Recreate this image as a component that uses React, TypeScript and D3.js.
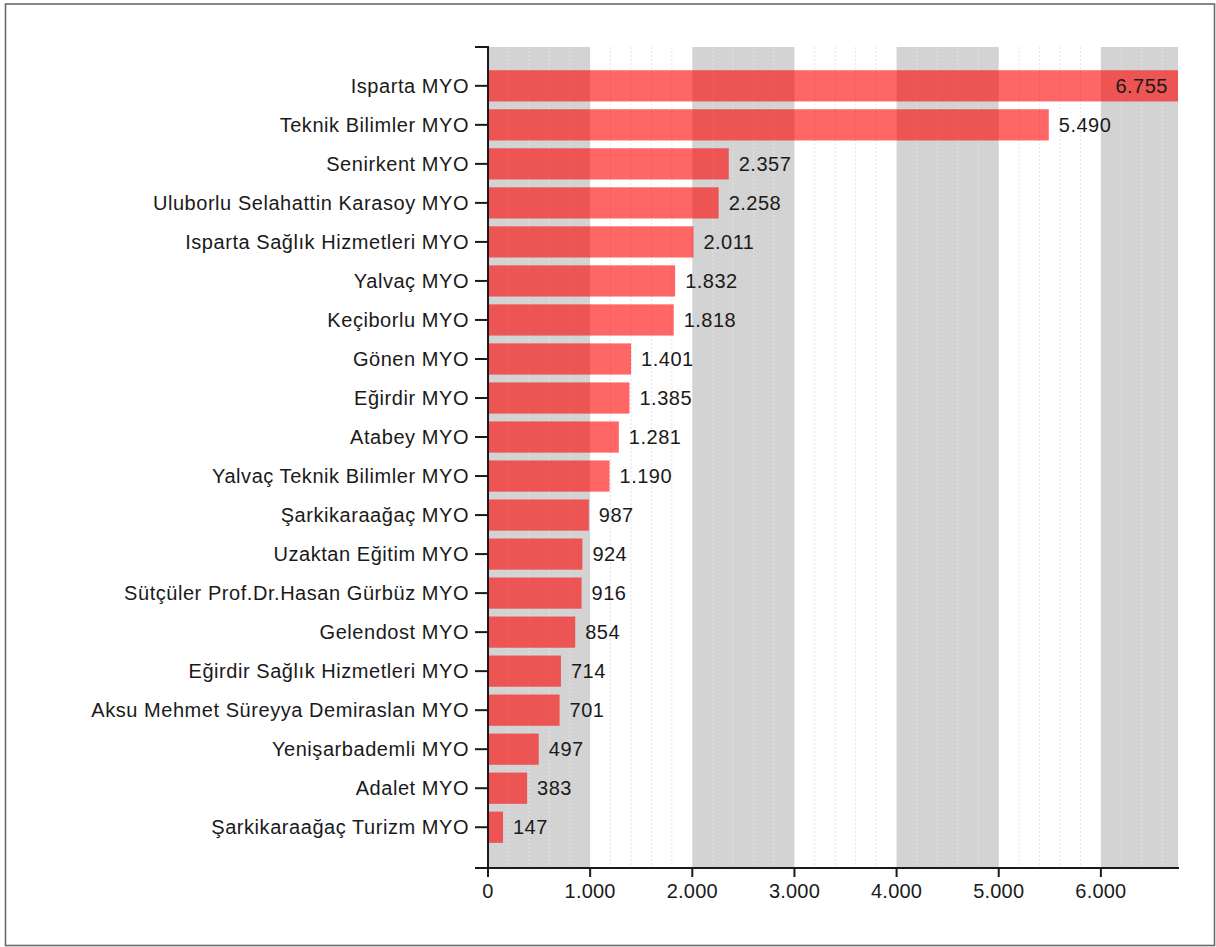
import React from "react";
import * as d3 from "d3";

const categories = [
  "Isparta MYO",
  "Teknik Bilimler MYO",
  "Senirkent MYO",
  "Uluborlu Selahattin Karasoy MYO",
  "Isparta Sağlık Hizmetleri MYO",
  "Yalvaç MYO",
  "Keçiborlu MYO",
  "Gönen MYO",
  "Eğirdir MYO",
  "Atabey MYO",
  "Yalvaç Teknik Bilimler MYO",
  "Şarkikaraağaç MYO",
  "Uzaktan Eğitim MYO",
  "Sütçüler Prof.Dr.Hasan Gürbüz MYO",
  "Gelendost MYO",
  "Eğirdir Sağlık Hizmetleri MYO",
  "Aksu Mehmet Süreyya Demiraslan MYO",
  "Yenişarbademli MYO",
  "Adalet MYO",
  "Şarkikaraağaç Turizm MYO",
];
const values = [6755, 5490, 2357, 2258, 2011, 1832, 1818, 1401, 1385, 1281, 1190, 987, 924, 916, 854, 714, 701, 497, 383, 147];
const xTicks = [0, 1000, 2000, 3000, 4000, 5000, 6000];

const W = 1216;
const H = 947;
const left = 488;
const right = 1178;
const top = 47;
const bottom = 868;
const FONT = "'Liberation Sans', Arial, sans-serif";

const locale = d3.formatLocale({ decimal: ",", thousands: ".", grouping: [3], currency: ["", "₺"] });
const fmt = locale.format(",d");

export default function App() {
  const xMax = d3.max(values) as number;
  const x = d3.scaleLinear().domain([0, xMax]).range([left, right]);
  const y = d3.scaleBand<string>().domain(categories).range([top, bottom]).paddingInner(0.2).paddingOuter(0.62).align(0.48);

  const bandStarts = d3.range(0, xMax, 1000);
  const minor = d3.range(200, xMax, 200).filter((v) => v % 1000 !== 0);

  return (
    <svg width={W} height={H} style={{ position: "absolute", left: 0, top: 0 }} fontFamily={FONT}>
      <rect x={5.5} y={4} width={1209} height={941.5} fill="white" stroke="#6a6a6a" strokeWidth={1.6} />
      {bandStarts.map((b, i) =>
        i % 2 === 0 ? (
          <rect key={"b" + b} x={x(b)} y={top} width={x(Math.min(b + 1000, xMax)) - x(b)} height={bottom - top} fill="#d3d3d3" />
        ) : null
      )}
      {minor.map((m) => (
        <line key={"m" + m} x1={x(m)} x2={x(m)} y1={top} y2={bottom} stroke="#e2e2e2" strokeWidth={1} strokeDasharray="2,2" />
      ))}
      {categories.map((c, i) => (
        <rect key={"r" + c} x={x(0)} y={y(c)} width={x(values[i]) - x(0)} height={y.bandwidth()} fill="red" fillOpacity={0.6} />
      ))}
      {categories.map((c, i) => {
        const end = x(values[i]);
        const inside = end + 70 > right;
        return (
          <text
            key={"v" + c}
            x={inside ? end - 10 : end + 10}
            y={(y(c) as number) + y.bandwidth() / 2}
            dy="0.35em"
            textAnchor={inside ? "end" : "start"}
            fontSize={20}
            letterSpacing={0.5}
            fill="#1a1a1a"
          >
            {fmt(values[i])}
          </text>
        );
      })}
      <path d={`M${left - 13},${top}H${left}V${bottom}H${left - 13}`} fill="none" stroke="#1a1a1a" strokeWidth={2} />
      {categories.map((c) => {
        const cy = (y(c) as number) + y.bandwidth() / 2;
        return (
          <g key={"t" + c}>
            <line x1={left - 13} x2={left} y1={cy} y2={cy} stroke="#1a1a1a" strokeWidth={2} />
            <text x={left - 19} y={cy} dy="0.35em" textAnchor="end" fontSize={20} letterSpacing={0.55} fill="#1a1a1a">
              {c}
            </text>
          </g>
        );
      })}
      <line x1={left} x2={right + 1} y1={bottom} y2={bottom} stroke="#1a1a1a" strokeWidth={2} />
      {xTicks.map((t) => (
        <g key={"x" + t}>
          <line x1={x(t)} x2={x(t)} y1={bottom} y2={bottom + 9} stroke="#1a1a1a" strokeWidth={2} />
          <text x={x(t)} y={bottom + 16} dy="0.71em" textAnchor="middle" fontSize={20} letterSpacing={0.2} fill="#1a1a1a">
            {fmt(t)}
          </text>
        </g>
      ))}
    </svg>
  );
}
